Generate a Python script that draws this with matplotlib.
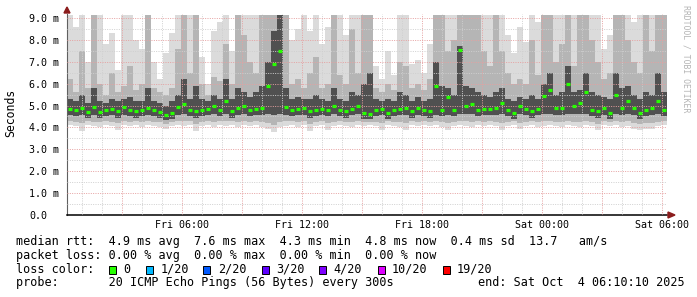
import numpy as np
import matplotlib
matplotlib.use("Agg")
import matplotlib.pyplot as plt
from matplotlib.patches import Polygon, Rectangle
from matplotlib.ticker import MultipleLocator, FixedLocator, FixedFormatter

# 100 bins of 18 minutes, starting Fri 00:15 (hours since Fri 00:00)
start_hour = 0.25
bin_hours = 0.3

median = [4.85, 4.80, 4.90, 4.70, 4.95, 4.70, 4.80, 4.85, 4.75, 4.95,
          4.80, 4.75, 4.80, 4.90, 4.80, 4.70, 4.55, 4.65, 4.95, 5.05,
          4.80, 4.75, 4.80, 4.85, 5.00, 4.80, 5.20, 4.75, 4.90, 5.00,
          4.80, 4.85, 4.90, 5.90, 6.90, 7.50, 4.95, 4.80, 4.85, 4.90,
          4.75, 4.80, 4.85, 4.80, 5.00, 4.80, 4.75, 4.85, 5.00, 4.65,
          4.60, 4.80, 4.85, 4.65, 4.80, 4.85, 4.90, 4.75, 4.90, 4.80,
          4.75, 5.90, 4.80, 5.40, 4.80, 7.55, 5.00, 5.05, 4.80, 4.85,
          4.85, 4.90, 5.10, 4.80, 4.65, 5.00, 4.85, 4.75, 4.85, 5.45,
          5.70, 4.90, 4.90, 6.00, 5.00, 5.10, 5.60, 4.80, 4.75, 4.90,
          4.65, 5.50, 4.90, 5.20, 4.90, 4.65, 4.80, 4.90, 5.20, 4.80]

# outer smoke (fastest / slowest ping)
smoke_lo = [4.10, 4.05, 3.85, 4.10, 4.05, 4.00, 4.10, 4.05, 3.90, 4.10,
            4.05, 4.10, 4.00, 4.10, 4.05, 4.00, 3.95, 4.05, 4.10, 4.05,
            4.10, 3.85, 4.05, 4.10, 4.00, 4.10, 4.05, 4.10, 4.00, 4.10,
            4.05, 4.10, 4.00, 3.95, 3.80, 4.00, 4.05, 4.10, 4.00, 4.10,
            3.85, 4.05, 4.10, 3.90, 4.05, 4.10, 4.05, 4.00, 4.10, 4.05,
            4.10, 4.05, 3.90, 4.10, 4.05, 4.00, 3.90, 4.10, 4.05, 4.10,
            4.05, 4.10, 4.00, 3.90, 4.05, 4.10, 4.05, 4.00, 4.10, 4.05,
            4.10, 4.05, 3.90, 4.05, 4.10, 3.95, 4.05, 4.10, 4.00, 4.05,
            4.10, 4.05, 4.00, 4.10, 4.05, 4.00, 4.10, 4.05, 3.90, 4.10,
            4.05, 4.10, 4.00, 4.05, 3.95, 3.90, 3.95, 3.95, 4.05, 4.10]
smoke_hi = [9.15, 8.6, 9.15, 7.0, 9.15, 9.15, 7.8, 8.3, 6.6, 9.15,
            9.15, 8.0, 7.6, 9.15, 7.0, 6.2, 7.4, 8.3, 9.15, 9.15,
            9.15, 9.15, 7.2, 6.0, 8.4, 8.8, 9.15, 7.5, 9.15, 9.15,
            9.15, 9.15, 9.15, 9.15, 9.15, 9.15, 9.15, 8.0, 8.5, 9.15,
            8.4, 9.15, 7.8, 8.6, 9.15, 9.15, 8.2, 9.15, 9.15, 9.15,
            9.15, 6.8, 6.2, 7.5, 6.4, 9.15, 9.15, 6.9, 7.1, 6.5,
            7.8, 9.15, 9.15, 9.15, 9.15, 9.15, 9.15, 9.15, 9.15, 9.15,
            9.15, 9.15, 9.15, 8.2, 7.4, 8.6, 7.9, 9.15, 8.8, 9.15,
            9.15, 9.15, 9.15, 9.15, 9.15, 9.15, 9.15, 9.15, 9.15, 7.6,
            8.2, 9.15, 9.15, 9.15, 8.8, 9.15, 9.15, 9.15, 9.15, 9.15]

# middle smoke
mid_lo = [4.30, 4.25, 4.20, 4.30, 4.25, 4.25, 4.30, 4.25, 4.20, 4.30,
          4.25, 4.30, 4.25, 4.30, 4.25, 4.25, 4.15, 4.25, 4.30, 4.30,
          4.30, 4.15, 4.25, 4.30, 4.25, 4.30, 4.30, 4.30, 4.25, 4.30,
          4.25, 4.30, 4.25, 4.20, 4.10, 4.25, 4.30, 4.30, 4.25, 4.30,
          4.15, 4.25, 4.30, 4.20, 4.25, 4.30, 4.25, 4.25, 4.30, 4.25,
          4.25, 4.25, 4.20, 4.30, 4.25, 4.25, 4.20, 4.30, 4.25, 4.30,
          4.25, 4.30, 4.25, 4.20, 4.25, 4.30, 4.30, 4.25, 4.30, 4.25,
          4.30, 4.25, 4.20, 4.25, 4.30, 4.20, 4.25, 4.30, 4.25, 4.30,
          4.30, 4.25, 4.25, 4.30, 4.25, 4.25, 4.30, 4.25, 4.15, 4.30,
          4.25, 4.30, 4.25, 4.30, 4.20, 4.15, 4.20, 4.20, 4.25, 4.30]
mid_hi = [6.2, 5.6, 7.5, 5.8, 9.15, 6.0, 5.5, 6.5, 5.6, 5.9,
          6.8, 5.7, 6.0, 9.15, 5.8, 5.6, 5.5, 5.8, 7.6, 9.15,
          6.5, 9.15, 6.0, 5.5, 6.3, 6.1, 7.8, 6.0, 9.15, 8.2,
          7.0, 6.5, 9.15, 9.15, 9.15, 9.15, 9.15, 6.0, 6.2, 5.8,
          6.5, 7.2, 5.8, 6.0, 9.15, 6.4, 6.0, 8.5, 6.5, 9.15,
          9.15, 5.8, 5.6, 6.0, 5.7, 7.0, 6.8, 5.8, 6.0, 5.7,
          6.2, 9.15, 9.15, 7.5, 8.0, 9.15, 9.15, 9.15, 9.15, 7.5,
          6.8, 9.15, 7.5, 6.5, 6.0, 6.2, 6.0, 8.0, 6.4, 9.15,
          9.15, 7.0, 7.8, 9.15, 6.8, 9.15, 9.15, 8.0, 7.0, 6.2,
          6.5, 9.15, 9.15, 8.0, 7.0, 6.5, 9.15, 7.5, 9.15, 9.15]

# inner (dark) smoke
core_lo = [4.55, 4.50, 4.55, 4.45, 4.55, 4.45, 4.50, 4.55, 4.45, 4.55,
           4.50, 4.45, 4.50, 4.55, 4.50, 4.45, 4.35, 4.40, 4.55, 4.60,
           4.50, 4.45, 4.50, 4.55, 4.60, 4.50, 4.60, 4.45, 4.55, 4.60,
           4.50, 4.55, 4.55, 4.60, 4.55, 4.60, 4.55, 4.50, 4.55, 4.55,
           4.45, 4.50, 4.55, 4.50, 4.60, 4.50, 4.45, 4.55, 4.60, 4.40,
           4.40, 4.50, 4.55, 4.40, 4.50, 4.55, 4.55, 4.45, 4.55, 4.50,
           4.45, 4.55, 4.50, 4.55, 4.50, 4.60, 4.60, 4.60, 4.50, 4.55,
           4.55, 4.55, 4.60, 4.50, 4.40, 4.60, 4.55, 4.45, 4.55, 4.60,
           4.60, 4.55, 4.55, 4.60, 4.60, 4.60, 4.60, 4.50, 4.45, 4.55,
           4.40, 4.60, 4.55, 4.60, 4.55, 4.40, 4.50, 4.55, 4.60, 4.50]
core_hi = [5.3, 5.2, 5.5, 5.1, 5.8, 5.2, 5.1, 5.3, 5.2, 5.3,
           5.4, 5.2, 5.2, 5.8, 5.2, 5.1, 5.0, 5.2, 5.5, 6.2,
           5.3, 5.9, 5.3, 5.2, 5.5, 5.3, 6.2, 5.3, 5.8, 5.6,
           5.4, 5.6, 5.9, 7.0, 8.4, 9.15, 5.8, 5.3, 5.4, 5.3,
           5.3, 5.5, 5.3, 5.2, 5.8, 5.3, 5.2, 5.6, 5.5, 6.0,
           6.5, 5.3, 5.2, 5.3, 5.2, 5.6, 5.5, 5.2, 5.4, 5.2,
           5.3, 7.0, 5.9, 5.8, 5.5, 7.7, 5.9, 5.8, 5.6, 5.5,
           5.4, 5.6, 5.8, 5.3, 5.2, 5.4, 5.3, 5.5, 5.3, 6.0,
           6.5, 5.5, 5.6, 6.8, 5.6, 5.7, 6.5, 5.6, 5.5, 5.4,
           5.3, 6.5, 5.8, 5.9, 5.5, 5.3, 5.6, 5.5, 6.5, 5.6]

tick_hours = [6, 12, 18, 24, 30]
tick_labels = ["Fri 06:00", "Fri 12:00", "Fri 18:00", "Sat 00:00", "Sat 06:00"]
y_ticks = [0, 1, 2, 3, 4, 5, 6, 7, 8, 9]
y_labels = ["0.0"] + ["%d.0 m" % v for v in y_ticks[1:]]

loss_names = ["0", "1/20", "2/20", "3/20", "4/20", "10/20", "19/20"]
loss_colors = ["#26ff00", "#00b8ff", "#0059ff", "#5e00ff", "#7e00ff", "#dd00ff", "#ff0000"]

MONO = "DejaVu Sans Mono"
W, H = 697, 297


def fx(px):
    return px / W


def fy(py):
    return 1 - py / H


fig = plt.figure(figsize=(W / 100, H / 100), dpi=100, facecolor="white")
ax = fig.add_axes([fx(67), fy(215), 600 / W, 201 / H])
ax.set_xlim(0.25, 30.25)
ax.set_ylim(0, 9.18)

t = start_hour + bin_hours * np.arange(len(median))
med = np.array(median)

# smoke layers, light to dark
ax.bar(t, np.array(smoke_hi) - np.array(smoke_lo), bottom=smoke_lo, width=bin_hours,
       align="edge", color="#dbdbdb", linewidth=0, zorder=1)
ax.bar(t, np.array(mid_hi) - np.array(mid_lo), bottom=mid_lo, width=bin_hours,
       align="edge", color="#b5b5b5", linewidth=0, zorder=1.1)
ax.bar(t, np.array(core_hi) - np.array(core_lo), bottom=core_lo, width=bin_hours,
       align="edge", color="#505050", linewidth=0, zorder=1.2)

# median rtt coloured by loss (all zero loss -> green)
ax.hlines(med, t + 0.04, t + bin_hours - 0.04, color=loss_colors[0], lw=2.3, zorder=4)

# grid (drawn over the smoke like rrdtool)
ax.xaxis.set_major_locator(FixedLocator(np.arange(3, 31, 3)))
ax.xaxis.set_minor_locator(MultipleLocator(1))
ax.yaxis.set_major_locator(FixedLocator(y_ticks))
ax.yaxis.set_minor_locator(MultipleLocator(0.5))
ax.set_axisbelow(False)
ax.grid(which="major", color="#e6a0a0", lw=0.7, linestyle=(0, (1.0, 1.4)), zorder=3)
ax.grid(which="minor", color="#cfcfcf", lw=0.7, linestyle=(0, (1.0, 1.4)), zorder=3)

xlabels = [tick_labels[tick_hours.index(h)] if h in tick_hours else "" for h in range(3, 31, 3)]
ax.xaxis.set_major_formatter(FixedFormatter(xlabels))
ax.set_yticklabels(y_labels)
ax.tick_params(axis="x", which="both", length=0, pad=3.5, labelsize=7.2)
ax.tick_params(axis="y", which="both", length=0, pad=27.4, labelsize=7.2)
for lab in ax.get_yticklabels():
    lab.set_horizontalalignment("left")
for lab in ax.get_xticklabels() + ax.get_yticklabels():
    lab.set_family(MONO)

for s in ("top", "right"):
    ax.spines[s].set_visible(False)
ax.spines["left"].set_color("#606060")
ax.spines["left"].set_linewidth(0.8)
ax.spines["bottom"].set_color("black")
ax.spines["bottom"].set_linewidth(1.1)

# axis arrows
arrow_col = "#8b1c1c"
fig.add_artist(Polygon([(fx(67), fy(7)), (fx(64), fy(13)), (fx(70), fy(13))],
                       closed=True, color=arrow_col, transform=fig.transFigure))
fig.add_artist(Polygon([(fx(675), fy(215)), (fx(668), fy(212)), (fx(668), fy(218))],
                       closed=True, color=arrow_col, transform=fig.transFigure))

fig.text(fx(11), fy(113), "Seconds", rotation=90, ha="center", va="center",
         family=MONO, fontsize=8.3)
fig.text(fx(686), fy(59), "RRDTOOL / TOBI OETIKER", rotation=270, ha="center",
         va="center", family=MONO, fontsize=5.9, color="#b4b4b4")

# legend
fs = 8.5
fig.text(fx(16), fy(245), "median rtt:  4.9 ms avg  7.6 ms max  4.3 ms min  "
         "4.8 ms now  0.4 ms sd  13.7   am/s", family=MONO, fontsize=fs, va="baseline")
fig.text(fx(16), fy(258.8), "packet loss: 0.00 % avg  0.00 % max  0.00 % min  "
         "0.00 % now", family=MONO, fontsize=fs, va="baseline")
fig.text(fx(16), fy(272.6), "loss color:", family=MONO, fontsize=fs, va="baseline")
box_x = [109, 146, 203, 262, 319, 378, 443]
label_x = [123, 160.7, 218, 276, 333, 392, 456.7]
for bx, lx, name, col in zip(box_x, label_x, loss_names, loss_colors):
    fig.add_artist(Rectangle((fx(bx), fy(273.7)), 7 / W, 8 / H, facecolor=col,
                             edgecolor="black", lw=0.7, transform=fig.transFigure))
    fig.text(fx(lx), fy(272.6), name, family=MONO, fontsize=fs, va="baseline")
fig.text(fx(16), fy(286.4), "probe:       20 ICMP Echo Pings (56 Bytes) every 300s",
         family=MONO, fontsize=fs, va="baseline")
fig.text(fx(478), fy(286.4), "end: Sat Oct  4 06:10:10 2025", family=MONO,
         fontsize=fs, va="baseline")

fig.savefig("out.png", dpi=100, facecolor="white")
